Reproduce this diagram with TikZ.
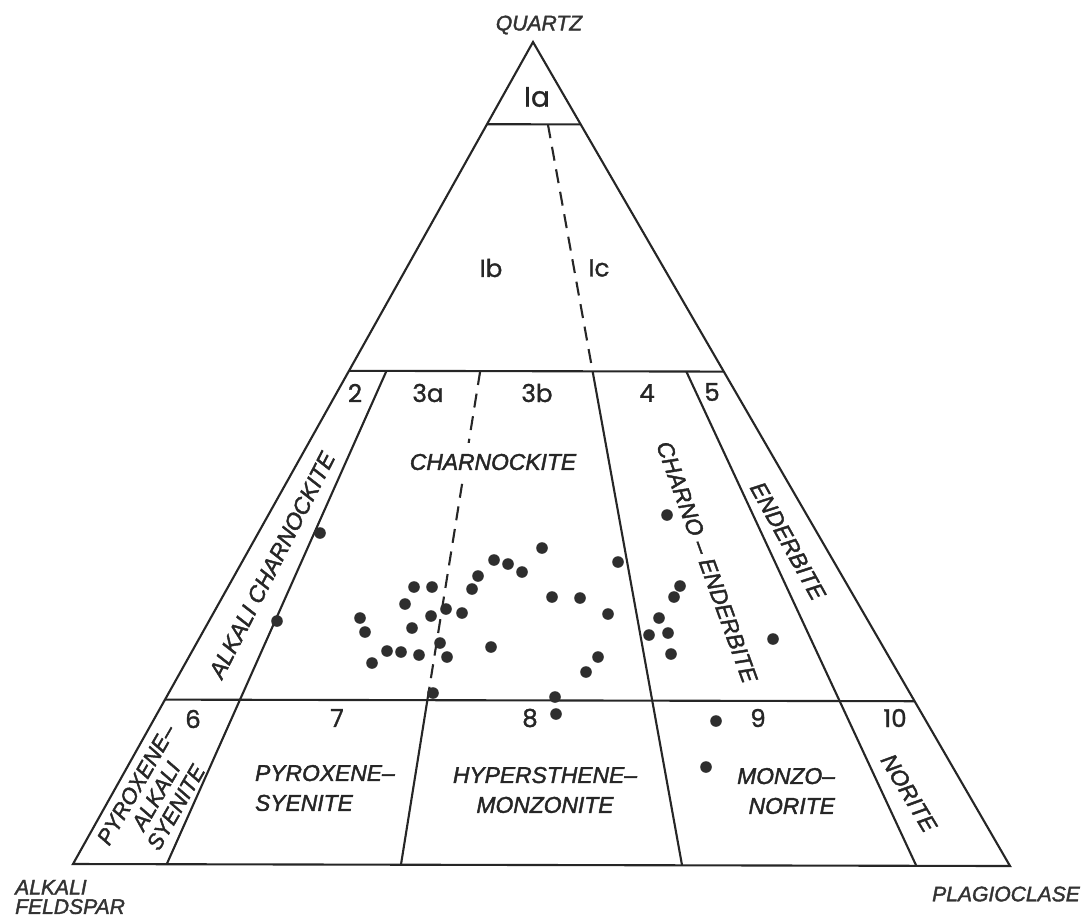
\documentclass[tikz,border=0pt]{standalone}
\usepackage{fontspec}
\setmainfont{Liberation Sans}
\newfontfamily\lblfont[ItalicFeatures={FakeBold=1.8}]{Liberation Sans}
\newfontfamily\numfont[UprightFeatures={FakeBold=1.2}]{Poppins}
\usetikzlibrary{calc}

\begin{document}
\begin{tikzpicture}[x=0.02cm, y=-0.02cm,
    field/.style={line width=1.2pt, draw=black!85},
    split/.style={field, dash pattern=on 8pt off 5pt},
    apex/.style={font=\fontsize{12}{11}\selectfont\lblfont\itshape, text=black!80},
    rock/.style={font=\fontsize{13}{17}\selectfont\lblfont\itshape, text=black!85, inner sep=1pt},
    num/.style={font=\fontsize{14}{16}\selectfont\numfont, text=black!85},
    sample/.style={fill=black!82}]
    \useasboundingbox (0,0) rectangle (1084,920);
    % corners of the QAP triangle
    \coordinate (Q) at (533,42);
    \coordinate (A) at (73,864);
    \coordinate (P) at (1010,866);
    % base points of the P/(A+P) ratio lines
    \foreach \r/\n in {0.1/b10, 0.35/b35, 0.65/b65, 0.9/b90}
        \coordinate (\n) at ($(A)!\r!(P)$);

    % outline and quartz levels (90, 60, 20 %)
    \draw[field] (A) -- (P) -- (Q) -- cycle;
    \foreach \t in {0.1, 0.4, 0.8}
        \draw[field] ($(Q)!\t!(A)$) -- ($(Q)!\t!(P)$);
    % field boundaries
    \draw[field] ($(Q)!0.4!(b10)$) -- (b10);
    \draw[split] ($(Q)!0.4!(b35)$) -- ($(Q)!0.8!(b35)$);
    \draw[field] ($(Q)!0.8!(b35)$) -- (b35);
    \draw[split] ($(Q)!0.1!(b65)$) -- ($(Q)!0.4!(b65)$);
    \draw[field] ($(Q)!0.4!(b65)$) -- (b65);
    \draw[field] ($(Q)!0.4!(b90)$) -- (b90);

    % corner names
    \node[apex] (quartz) at (539,25) {QUARTZ};
    \node[apex, align=left, anchor=west] (alkfsp) at (9,897) {ALKALI\\FELDSPAR};
    \node[apex] (plag) at (1006,894) {PLAGIOCLASE};

    % rock names
    \node[rock, fill=white, inner ysep=6pt] (charn) at (493,462) {CHARNOCKITE};
    \node[rock, rotate=63] (alkch) at (272,565) {ALKALI CHARNOCKITE};
    \node[rock, rotate=-70] (chend) at (707,562) {CHARNO – ENDERBITE};
    \node[rock, rotate=-61] (enderb) at (788,541) {ENDERBITE};
    \node[rock, rotate=-59] (norite) at (909,793) {NORITE};
    \node[rock, rotate=60, align=center, font=\fontsize{12.5}{13}\selectfont\lblfont\itshape] (pxas) at (156,796) {PYROXENE–\\ALKALI\\SYENITE};
    \node[rock, align=left, anchor=west] (pxsy) at (253,788) {PYROXENE–\\SYENITE};
    \node[rock, align=center] (hymz) at (545,790) {HYPERSTHENE–\\MONZONITE};
    \node[rock, align=right, anchor=east] (mznr) at (837,791) {MONZO–\\NORITE};

    % field numbers
    \node[num, font=\fontsize{16}{18}\selectfont\numfont] (f1a) at (537,97) {Ia};
    \foreach \lbl/\x/\y in {Ib/491/268, Ic/599/268, 2/355/393, 3a/428/393, 3b/537/393,
        4/647/393, 5/712/392, 6/193/719, 7/337/718, 8/530/718, 9/758/718, 10/895/718}
        \node[num] (f\lbl) at (\x,\y) {\lbl};

    % samples
    \foreach \x/\y in {320/533, 277/621, 360/618, 365/632, 372/663, 387/651, 401/652,
        419/655, 412/628, 405/604, 414/587, 432/587, 431/616, 446/609, 462/613, 440/643,
        447/657, 433/693, 472/589, 478/576, 494/560, 508/564, 522/572, 542/548, 491/647,
        552/597, 580/598, 608/614, 598/657, 586/672, 555/697, 556/714, 618/562, 667/515,
        680/586, 674/597, 659/618, 649/635, 668/633, 671/654, 773/639, 716/721, 706/767}
        \fill[sample] (\x,\y) circle (3.3pt);
\end{tikzpicture}
\end{document}
